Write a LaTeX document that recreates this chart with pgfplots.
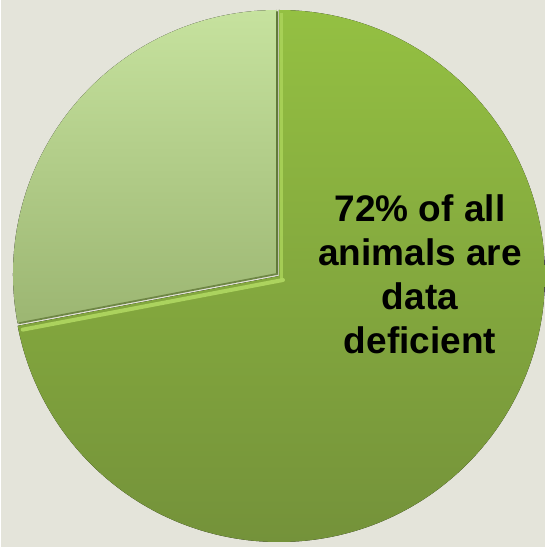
\documentclass[border=0pt]{standalone}
\usepackage{pgfplots}
\pgfplotsset{compat=1.18}
\usepackage{pgfplotstable}
\usepackage{fontspec}
\setmainfont{Liberation Sans}
\definecolor{bg}{RGB}{228,228,218}
\definecolor{bigtop}{RGB}{148,192,66}
\definecolor{bigbot}{RGB}{116,146,58}
\definecolor{smalltop}{RGB}{198,226,158}
\definecolor{smallbot}{RGB}{156,182,114}
\definecolor{hilite}{RGB}{182,222,102}
\definecolor{shadow}{RGB}{98,122,58}
\pgfplotstableread{
label value
deficient 72
other 28
}\pietable
\begin{document}
\begin{tikzpicture}
\begin{axis}[
  width=544pt, height=547pt, scale only axis,
  xmin=0, xmax=544, ymin=0, ymax=547,
  hide axis, clip=false]
\pgfplotstablegetelem{0}{value}\of\pietable
\pgfmathsetmacro\aend{90-3.6*\pgfplotsretval}
\fill[bg] (axis cs:0,0) rectangle (axis cs:544,547);
% big slice
\fill[top color=bigtop, bottom color=bigbot]
  (axis cs:278,271) -- ++(90:266pt) arc[start angle=90, end angle=\aend, radius=266pt] -- cycle;
% small slice
\fill[top color=smalltop, bottom color=smallbot]
  (axis cs:276,273) -- ++(\aend:264pt) arc[start angle=\aend, end angle=-270, radius=264pt] -- cycle;
% bevel effects
\draw[shadow, line width=2.2pt, line cap=round]
  (axis cs:276,273) -- ++(90:262pt);
\draw[shadow!80!smallbot, line width=1.8pt, line cap=round]
  (axis cs:276,273) -- ++(\aend:262pt);
\draw[hilite, line width=4pt, line cap=round, opacity=0.8]
  (axis cs:282,267) -- ++(\aend:265pt);
\draw[hilite!70!bigtop, line width=3pt, opacity=0.8]
  (axis cs:281,268) -- ++(90:266pt);
\node[font=\bfseries\fontsize{37}{44}\selectfont, align=center, text=black]
  at (axis cs:419,273) {72\% of all\\animals are\\data\\deficient};
\end{axis}
\end{tikzpicture}
\end{document}
